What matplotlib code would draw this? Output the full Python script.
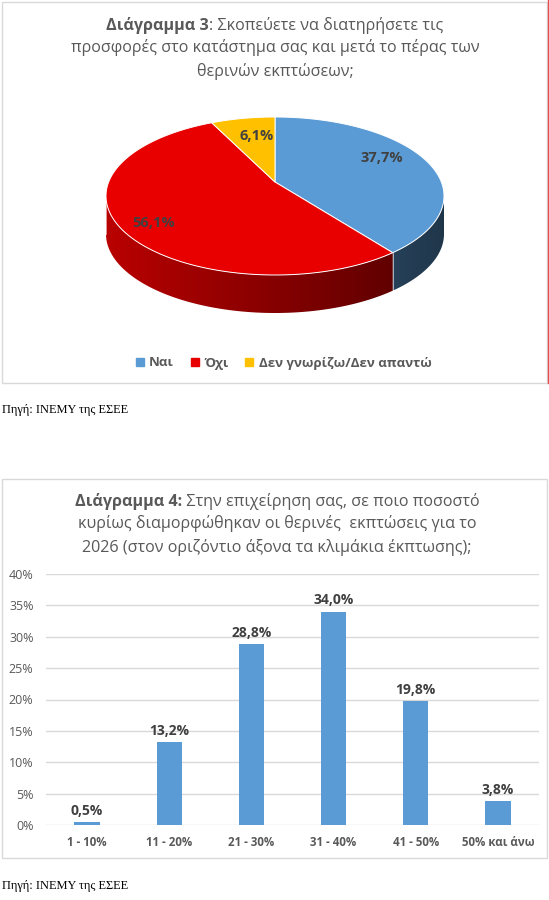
import matplotlib.pyplot as plt
import numpy as np
from matplotlib.colors import to_rgb
from matplotlib.patches import Polygon, Rectangle
from matplotlib.lines import Line2D

# ---- data ----
pie_labels = ['Ναι', 'Όχι', 'Δεν γνωρίζω/Δεν απαντώ']
pie_values = [37.7, 56.1, 6.1]
pie_colors = ['#5B9BD5', '#E80000', '#FFC000']

bar_labels = ['1 - 10%', '11 - 20%', '21 - 30%', '31 - 40%', '41 - 50%', '50% και άνω']
bar_values = [0.5, 13.2, 28.8, 34.0, 19.8, 3.8]
y_ticks = [0, 5, 10, 15, 20, 25, 30, 35, 40]

title3 = [[('Διάγραμμα 3', 'bold'), (': Σκοπεύετε να διατηρήσετε τις', 'normal')],
          [('προσφορές στο κατάστημα σας και μετά το πέρας των', 'normal')],
          [('θερινών εκπτώσεων;', 'normal')]]
title4 = [[('Διάγραμμα 4:', 'bold'), (' Στην επιχείρηση σας, σε ποιο ποσοστό', 'normal')],
          [('κυρίως διαμορφώθηκαν οι θερινές  εκπτώσεις για το', 'normal')],
          [('2026 (στον οριζόντιο άξονα τα κλιμάκια έκπτωσης);', 'normal')]]
source = 'Πηγή: ΙΝΕΜΥ της ΕΣΕΕ'

plt.rcParams['font.family'] = ['Open Sans', 'DejaVu Sans']
grey = '#595959'
dark = '#404040'


def pct(v):
    return f'{v:.1f}'.replace('.', ',') + '%'


W, H = 549, 900
fig = plt.figure(figsize=(W / 100, H / 100), dpi=100)
bg = fig.add_axes([0, 0, 1, 1])

# chart frames
bg.add_patch(Rectangle((2, 2), 545, 381, fill=False, ec='#D9D9D9', lw=1))
bg.plot([547.5, 547.5], [0, 383], color='#E05050', lw=1)
bg.add_patch(Rectangle((2, 479), 545, 379, fill=False, ec='#D9D9D9', lw=1))

renderer = fig.canvas.get_renderer()


def title_line(y, parts, size, cx):
    # mixed bold / normal text centred on one line
    texts = [bg.text(0, y, s, fontsize=size, fontweight=w, color=grey,
                     va='center', ha='left') for s, w in parts]
    widths = [t.get_window_extent(renderer).width for t in texts]
    x = cx - sum(widths) / 2
    for t, wd in zip(texts, widths):
        t.set_x(x)
        x += wd


# ---- 3d pie ----
cx, cy, rx, ry = 275, 196, 169, 79
apex = (275, 182)
depth = 38


def ell(t):
    t = np.radians(t)
    return cx + rx * np.cos(t), cy - ry * np.sin(t)


total = sum(pie_values)
cum = np.concatenate([[0], np.cumsum(pie_values)])
starts = 90 - 360 * cum[:-1] / total
ends = 90 - 360 * cum[1:] / total

# side walls (front half only), shaded left to right
xs = np.linspace(cx - rx, cx + rx, 300)
frac = (xs - (cx - rx)) / (2 * rx)
for a0, a1, col in zip(starts, ends, pie_colors):
    base = np.array(to_rgb(col))
    for k in (-360, 0, 360):
        lo = max(a1 + k, -180)
        hi = min(a0 + k, 0)
        if hi <= lo:
            continue
        th = np.linspace(lo, hi, 150)
        top = [ell(t) for t in th]
        bot = [(px, py + depth) for px, py in top[::-1]]
        side = Polygon(top + bot, closed=True, fc='none', ec='none')
        bg.add_patch(side)
        grad = np.clip(base[None, None, :] * (0.80 - 0.45 * frac)[None, :, None], 0, 1)
        im = bg.imshow(grad, extent=(cx - rx, cx + rx, cy + ry + depth, cy - ry),
                       aspect='auto', interpolation='bilinear', zorder=1)
        im.set_clip_path(side)
        xa, ya = ell(lo)
        bg.plot([xa, xa], [ya, ya + depth], color='white', lw=0.6, alpha=0.7, zorder=2)

# top faces
for a0, a1, col in zip(starts, ends, pie_colors):
    th = np.linspace(a0, a1, 150)
    pts = [apex] + [ell(t) for t in th]
    bg.add_patch(Polygon(pts, closed=True, fc=col, ec='white', lw=0.7, zorder=3))

label_r = [0.68, 0.86, 0.56]
label_dy = [-4, 4, -3]
for a0, a1, v, r, dy in zip(starts, ends, pie_values, label_r, label_dy):
    m = np.radians((a0 + a1) / 2)
    lx = apex[0] + rx * r * np.cos(m)
    ly = apex[1] - ry * r * np.sin(m) + dy
    bg.text(lx, ly, pct(v), ha='center', va='center', fontsize=10.5,
            fontweight='bold', color=dark, zorder=4)

bg.set_xlim(0, W)
bg.set_ylim(H, 0)
bg.axis('off')

for line, y in zip(title3, [25, 48, 71]):
    title_line(y, line, 11.6, 275)
for line, y in zip(title4, [502, 524, 547]):
    title_line(y, line, 11.6, 277)

handles = [Line2D([], [], marker='s', ls='', color=c, markersize=6) for c in pie_colors]
fig.legend(handles, pie_labels, loc='center', bbox_to_anchor=(283 / W, 1 - 363 / H),
           ncol=3, frameon=False, handlelength=0.8, handletextpad=0.3,
           columnspacing=1.2, prop={'weight': 'bold', 'size': 9.5}, labelcolor=grey)

# ---- bar chart ----
ax = fig.add_axes([46 / W, 1 - 825 / H, 493 / W, 251 / H])
x = np.arange(len(bar_values))
ax.bar(x, bar_values, width=0.31, color='#5B9BD5', zorder=2)
ax.set_xlim(-0.5, len(bar_values) - 0.5)
ax.set_ylim(0, 40)
ax.set_yticks(y_ticks)
ax.set_yticklabels([f'{v}%' for v in y_ticks])
ax.set_xticks(x)
ax.set_xticklabels(bar_labels, fontweight='bold')
ax.yaxis.grid(True, color='#D9D9D9', lw=1)
ax.set_axisbelow(True)
for s in ax.spines.values():
    s.set_visible(False)
ax.tick_params(axis='both', length=0, colors=grey)
ax.tick_params(axis='y', labelsize=9, pad=9)
ax.tick_params(axis='x', labelsize=8.3, pad=8)
ax.patch.set_alpha(0)
for i, v in enumerate(bar_values):
    ax.annotate(pct(v), (i, v), xytext=(0, 3), textcoords='offset points',
                ha='center', va='bottom', fontsize=10, fontweight='bold', color=dark)

# sources
for y in (410, 886):
    bg.text(2, y, source, ha='left', va='center', fontsize=8.9,
            family='Liberation Serif', color='black')

fig.savefig('out.png', dpi=100)
